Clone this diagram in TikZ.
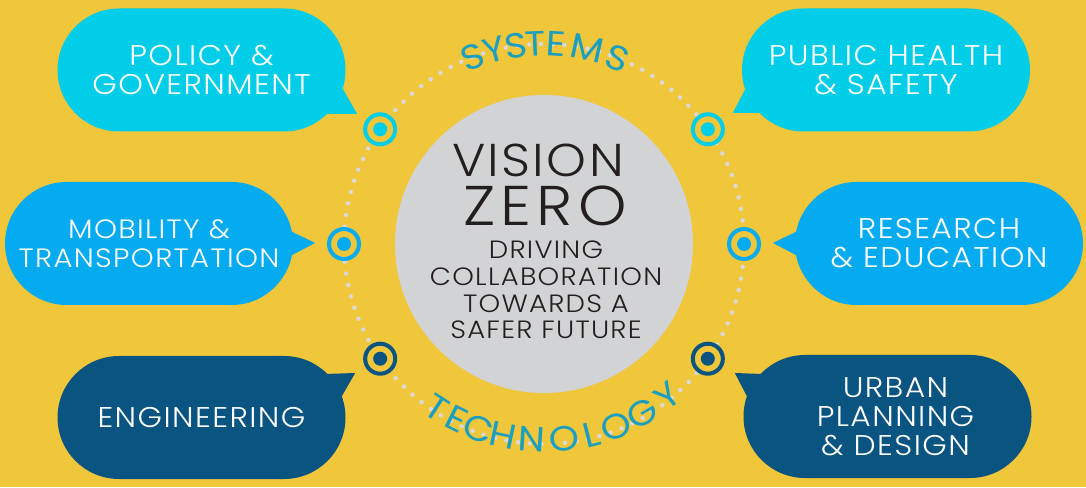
\documentclass[tikz,border=0pt]{standalone}
\usepackage{fontspec}
\setmainfont{Poppins}[UprightFont={* Light}, FakeStretch=1.1, LetterSpace=5]
\newfontfamily\arcfont{Poppins}[FakeStretch=1.1]
\usepackage{xcolor}
\usepackage{tikz}

\definecolor{vzyellow}{HTML}{F0C63A}
\definecolor{vzgray}{HTML}{D1D3D4}
\definecolor{vzdots}{HTML}{D9D9D9}
\definecolor{vzteal}{HTML}{1A9FC0}
\definecolor{vzcyan}{HTML}{00CDE8}
\definecolor{vzblue}{HTML}{05ABF0}
\definecolor{vznavy}{HTML}{0A5482}
\definecolor{vzink}{HTML}{231F20}

\begin{document}
\begin{tikzpicture}[
  x=1pt, y=1pt,
  bubble/.style={rectangle, rounded corners=61.5, minimum width=288, minimum height=123, inner sep=0pt, align=center, text=white, font=\fontsize{28.5}{29}\selectfont},
  dotmark/.style={circle, draw, line width=4, fill=vzyellow, minimum size=30, inner sep=0pt},
  arcletter/.style={text=vzteal, font=\arcfont\fontsize{35}{35}\selectfont, inner sep=0pt},
  dotring/.style={draw=vzdots, line width=4.5, line cap=round, dash pattern=on 0pt off 11.75pt}
]
% background
\fill[vzyellow] (0,0) rectangle (1086,487);
\coordinate (ctr) at (544,243);

% Middle: dotted ring and vision zero disc
\draw[dotring] (ctr) circle (200);
\node[circle, fill=vzgray, minimum size=298, inner sep=0pt] (vz) at (ctr) {};

\begin{scope}[shift={(ctr)}]
% words bent round the ring
\foreach \ch/\ang [count=\i] in {S/111, Y/104.5, S/98, T/92.5, E/86.5, M/77.5, S/68.5}
  \node[arcletter, rotate=\ang-90] (sys\i) at (\ang:200) {\ch};
\foreach \ch/\ang [count=\i] in {T/-123, E/-116.5, C/-109.5, H/-102, N/-93.5, O/-84, L/-76, O/-68.5, G/-60, Y/-51}
  \node[arcletter, rotate=\ang+90] (tec\i) at (\ang:196) {\ch};
% ring markers
\foreach \ang/\col [count=\i] in {145/vzcyan, 35/vzcyan, 180/vzblue, 0/vzblue, 215/vznavy, 325/vznavy}{
  \node[dotmark, draw=\col] (m\i) at (\ang:200) {};
  \fill[\col] (m\i) circle (7);
}
\end{scope}

\node[anchor=base, text=vzink, font=\fontsize{46}{46}\selectfont] (vision) at (538,310) {VISION};
\node[anchor=base, text=vzink, font=\fontsize{56}{56}\selectfont\addfontfeature{LetterSpace=9}] (zero) at (545,261) {ZERO};
\node[align=center, text=vzink, font=\fontsize{25}{26.7}\selectfont] (motto) at (546,197) {DRIVING\\COLLABORATION\\TOWARDS A\\SAFER FUTURE};

% Left: bubbles
\node[bubble, fill=vzcyan] (pol) at (201.5,417) {POLICY \&\\GOVERNMENT};
\node[bubble, fill=vzblue, font=\fontsize{26.5}{29}\selectfont] (mob) at (149,243.5) {MOBILITY \&\\TRANSPORTATION};
\node[bubble, fill=vznavy] (eng) at (201.5,69.5) {ENGINEERING};

% Right: bubbles
\node[bubble, fill=vzcyan] (pub) at (886,417) {PUBLIC HEALTH\\\& SAFETY};
\node[bubble, fill=vzblue] (res) at (939,243.5) {RESEARCH\\\& EDUCATION};
\node[bubble, fill=vznavy] (urb) at (887.5,70.5) {\hspace*{16pt}URBAN\\\hspace*{16pt}PLANNING\\\hspace*{16pt}\& DESIGN};

% bubble tails
\fill[vzcyan] (pol.east) ++(-4.5,-16) -- ++(16,-28) -- ++(-32,0) -- cycle;
\fill[vzblue] (mob.east) ++(-3,12.5) -- ++(25,-12) -- ++(-25,-13) -- cycle;
\fill[vznavy] (eng.east) ++(-5.5,18.5) -- ++(15,26) -- ++(-30,-1) -- cycle;
\fill[vzcyan] (pub.west) ++(4,-18) -- ++(-13,-25) -- ++(29,0) -- cycle;
\fill[vzblue] (res.west) ++(3,12.5) -- ++(-25,-12) -- ++(25,-13) -- cycle;
\fill[vznavy] (urb.west) ++(4.5,18.5) -- ++(-13,25) -- ++(27,-1) -- cycle;
\end{tikzpicture}
\end{document}
